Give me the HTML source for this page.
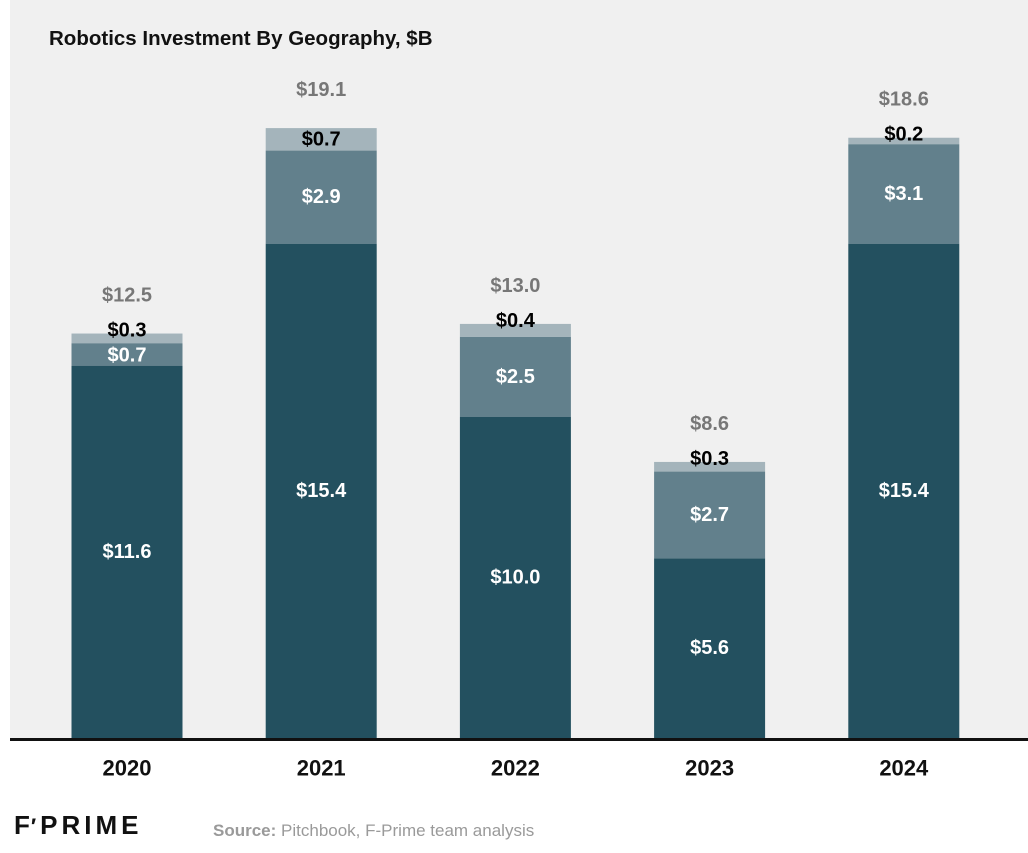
<!DOCTYPE html>
<html><head><meta charset="utf-8"><style>
html,body{margin:0;padding:0;background:#fff;}
body{width:1028px;height:848px;overflow:hidden;font-family:"Liberation Sans",Arial,sans-serif;}
</style></head><body>
<svg id="chart" width="1028" height="848" xmlns="http://www.w3.org/2000/svg" font-family="Liberation Sans, Arial, sans-serif">
<rect x="10" y="0" width="1018" height="739" fill="#f0f0f0"/>
<text x="49" y="45" font-size="20.5" font-weight="bold" fill="#111">Robotics Investment By Geography, $B</text>
<g id="bars"></g>
<rect x="10" y="738" width="1018" height="3" fill="#111"/>
<text x="14" y="834" font-size="26" font-weight="bold" letter-spacing="4" fill="#111">F<tspan font-size="22" dx="-3">&#x2032;</tspan>PRIME</text>
<text x="213" y="836" font-size="17" fill="#9a9a9a"><tspan font-weight="bold">Source:</tspan> Pitchbook, F-Prime team analysis</text>
</svg>
<script>
const categories = ["2020","2021","2022","2023","2024"];
const seriesDark = [11.6, 15.4, 10.0, 5.6, 15.4];
const seriesMid = [0.7, 2.9, 2.5, 2.7, 3.1];
const seriesLight = [0.3, 0.7, 0.4, 0.3, 0.2];
const totals = [12.5, 19.1, 13.0, 8.6, 18.6];

const NS = "http://www.w3.org/2000/svg";
const g = document.getElementById("bars");
const baseY = 738, pxPerUnit = 32.1;
function yScale(v){ return baseY - v * pxPerUnit; }
function xCenter(i){ return 127 + i * 194.2; }
const barW = 111;
function mk(tag, attrs){ const e = document.createElementNS(NS, tag); for (const k in attrs) e.setAttribute(k, attrs[k]); return e; }
function label(x, y, txt, fill){
  const t = mk("text", {x:x, y:y, "text-anchor":"middle", "dominant-baseline":"central", "font-size":"20", "font-weight":"bold", fill:fill});
  t.textContent = txt;
  return t;
}
const colors = ["#23505f", "#62808c", "#a4b4bb"];
const names = ["dark", "mid", "light"];
categories.forEach((c, i) => {
  const vals = [seriesDark[i], seriesMid[i], seriesLight[i]];
  let cum = 0;
  const cx = xCenter(i);
  let topY = baseY;
  vals.forEach((v, s) => {
    const y1 = yScale(cum), y2 = yScale(cum + v);
    const r = mk("rect", {x: cx - barW/2, y: y2, width: barW, height: y1 - y2, fill: colors[s]});
    
    
    g.appendChild(r);
    const h = y1 - y2;
    let ly = (y1 + y2) / 2;
    if (s === 2 && h < 20) ly = y2 - 3;
    if (s === 1 && h < 30) ly = (y1 + y2) / 2 + 1;
    const t = label(cx, ly, "$" + v.toFixed(1), s === 2 ? "#000" : "#fff");
    
    
    g.appendChild(t);
    cum += v;
    topY = y2;
  });
  const tt = label(cx, topY - 38, "$" + totals[i].toFixed(1), "#777");
  
  
  g.appendChild(tt);
  const xl = mk("text", {x: cx, y: 768, "text-anchor":"middle", "dominant-baseline":"central", "font-size":"22", "font-weight":"bold", fill:"#111"});
  xl.textContent = c;
  
  
  g.appendChild(xl);
});
</script>
</body></html>
